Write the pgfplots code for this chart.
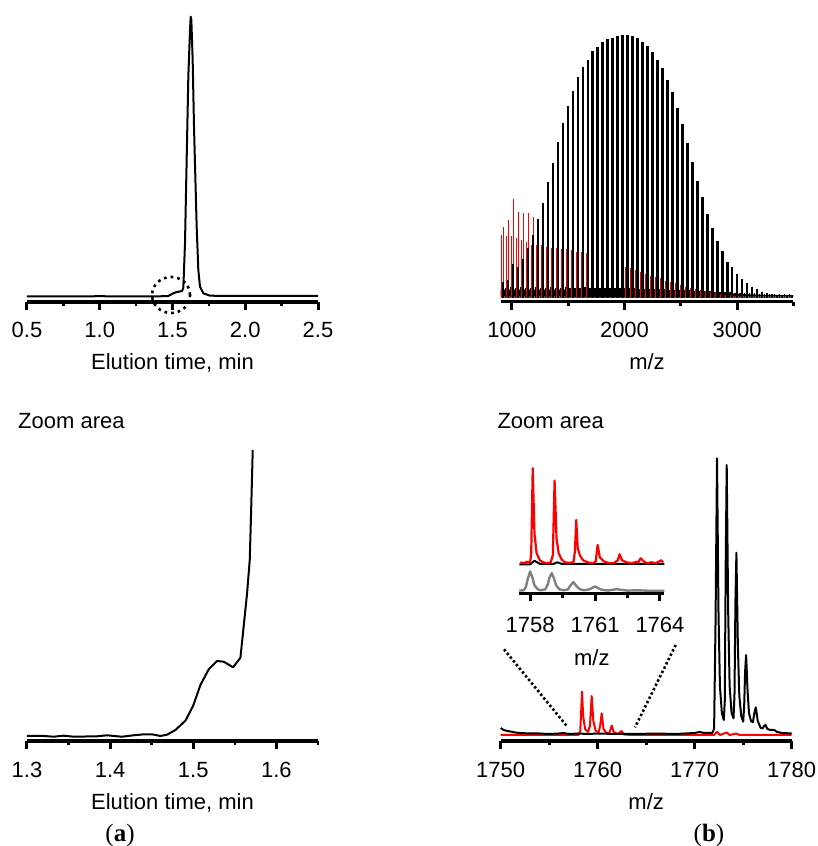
\documentclass[border=0pt]{standalone}
\usepackage{pgfplots}
\pgfplotsset{compat=1.18}
\usepackage{fontspec}
\setmainfont{Liberation Sans}
\newfontfamily\capfont{Liberation Serif}
\newcommand\lbl{\fontsize{22}{26}\selectfont}

\pgfplotsset{
  panel/.style={
    scale only axis, anchor=south west, clip=false,
    axis x line=bottom, axis y line=none,
    axis line style={-, line width=3.2pt},
    tick align=outside,
    major tick length=8pt, minor tick length=4.5pt,
    major tick style={line width=3pt, black},
    minor tick style={line width=2.6pt, black},
    ytick=\empty,
    /pgf/number format/assume math mode=true,
    tick label style={font=\lbl},
    xticklabel style={anchor=base, yshift=-28pt},
    label style={font=\lbl},
    xlabel style={at={(axis description cs:0.5,0)}, anchor=base, yshift=-68pt},
  },
  spec/.style={line width=2pt, line join=round},
}

\begin{document}
\begin{tikzpicture}
\path[use as bounding box] (0,0) rectangle (818pt,846pt);

% ---- top left: chromatogram
\begin{axis}[panel, at={(27pt,544pt)}, width=291pt, height=290pt,
  xmin=0.5, xmax=2.5, ymin=0, ymax=290,
  xtick={0.5,1,1.5,2,2.5}, xticklabels={0.5,1.0,1.5,2.0,2.5},
  minor xtick={0.75,1.25,1.75,2.25},
  xlabel={Elution time, min}]
\addplot[spec] coordinates {
  (0.5,5.5) (0.8,5.5) (1.0,5.8) (1.2,5.5) (1.35,5.6) (1.45,5.8) (1.47,6)
  (1.49,7.5) (1.51,9) (1.53,10) (1.55,10.5) (1.565,11) (1.5745,14)
  (1.5859,58.7) (1.5973,142) (1.6088,225.3) (1.6203,272) (1.6249,285.3)
  (1.6295,282) (1.6386,242) (1.6478,175.3) (1.6569,125.3) (1.6661,75.3)
  (1.6775,32) (1.689,15.3) (1.7119,8.7) (1.7577,6.3) (1.9,6) (2.2,6) (2.5,6)
};
\draw[line width=2.6pt, dash pattern=on 2.7pt off 4pt]
  (axis cs:1.49,7) ellipse[x radius=19pt, y radius=18pt];
\end{axis}

% ---- top right: full spectrum
\begin{axis}[panel, at={(500.7pt,544.3pt)}, width=292.6pt, height=290pt,
  xmin=900, xmax=3500, ymin=-4, ymax=286,
  xtick={1000,2000,3000}, xticklabels={1000,2000,3000},
  minor xtick={1500,2500,3500},
  xlabel={m/z}]
% dense low-level signal
\addplot[fill=black, draw=none] coordinates {
  (900,1) (900,8) (1800,8) (2300,7.5) (2600,6) (2900,4.5) (3200,3) (3500,2.5) (3500,1)
};
\addplot[ycomb, black, line width=1.5pt] coordinates {
  (942,10) (986.3,10.5) (1030.6,10) (1074.9,10.5) (1119.2,10) (1163.5,10)
  (1207.8,10.5) (1252.1,10) (1296.4,10) (1340.7,10.5) (1385,10) (1429.3,10)
  (1473.6,10.5) (1517.9,10) (1562.2,10) (1606.5,10) (1650.8,10.5) (1695.1,10)
  (1739.4,10) (1783.7,10) (1828,10) (1872.3,10) (1916.6,9.5) (1960.9,10)
  (2005.2,10) (2049.5,9.5) (2093.8,9.5) (2138.1,9) (2182.4,9) (2226.7,9)
  (2271,8.5) (2315.3,8.5) (2359.6,8.5) (2403.9,8) (2448.2,8) (2492.5,8)
  (2536.8,7.5) (2581.1,7.5) (2625.4,7) (2669.7,7) (2714,6.5) (2758.3,6.5)
  (2802.6,6) (2846.9,6) (2891.2,5.5) (2935.5,5.5) (2979.8,5) (3024.1,5)
  (3068.4,4.5) (3112.7,4.5) (3157,4.5) (3201.3,4) (3245.6,4) (3289.9,4)
  (3334.2,3.5) (3378.5,3.5) (3422.8,3.5) (3467.1,3.5)
};
% red series
\addplot[ycomb, red, line width=1.5pt] coordinates {
  (908,62.7) (952.3,61.7) (996.6,61.7) (1040.9,59.4) (1085.2,57.7) (1129.5,56)
  (1173.8,52.7) (1218.1,52.7) (1262.4,52.7) (1306.7,51) (1351,50) (1395.3,50)
  (1439.6,48.4) (1483.9,48.4) (1528.2,47.7) (1572.5,45.4) (1616.8,45.4)
  (1661.1,44.4) (1705.4,42.7) (1749.7,39.4) (1794,37.7) (1838.3,36)
  (1882.6,35) (1926.9,33.7) (1971.2,31.7) (2015.5,30.4) (2059.8,29.4)
  (2104.1,27.7) (2148.4,26) (2192.7,23.7) (2237,22) (2281.3,20.4)
  (2325.6,19.4) (2369.9,17) (2414.2,16) (2458.5,14.4) (2502.8,12.7)
  (2547.1,11) (2591.4,9.4) (2635.7,8.4) (2680,7.7) (2724.3,6.7) (2768.6,5.7)
  (2812.9,4.4) (2857.2,3.7) (2901.5,3) (2945.8,2.5) (2990.1,2) (3034.4,1.5)
};
\addplot[ycomb, red, line width=1.5pt] coordinates {
  (924,70.4) (968.3,77.7) (1012.6,98.4) (1056.9,86) (1101.2,85) (1145.5,84.4) (1189.8,80.4)
};
\addplot[red, line width=1.3pt] coordinates {(900,0.4) (3500,0.4)};
% black series
\addplot[ycomb, black, line width=2.4pt] coordinates {
  (920,16) (964.3,17.7) (1008.6,33.7) (1052.9,30.4) (1097.2,38.4) (1141.5,49.4)
  (1185.8,62.7) (1230.1,78.4) (1274.4,95) (1318.7,116) (1363,135) (1407.3,156)
  (1451.6,174.4) (1495.9,191.7) (1540.2,207) (1584.5,220.4) (1628.8,230.4)
  (1673.1,237.7) (1717.4,247) (1761.7,250.4) (1806,256) (1850.3,258.4)
  (1894.6,259.4) (1938.9,262) (1983.2,263) (2027.5,262.7) (2071.8,262)
  (2116.1,259.4) (2160.4,256) (2204.7,251.7) (2249,246) (2293.3,237.7)
  (2337.6,230) (2381.9,217.7) (2426.2,206) (2470.5,189.4) (2514.8,173.7)
  (2559.1,154.4) (2603.4,136) (2647.7,117) (2692,101) (2736.3,83.4)
  (2780.6,69.4) (2824.9,57) (2869.2,47) (2913.5,36) (2957.8,30.4)
  (3002.1,23.7) (3046.4,18.4) (3090.7,15) (3135,11) (3179.3,8.4) (3223.6,6)
  (3267.9,4.4) (3312.2,3.4) (3356.5,2.7) (3400.8,2.4) (3445.1,2.4) (3489.4,2)
};
\end{axis}

% ---- bottom left: zoomed chromatogram
\begin{axis}[panel, at={(27pt,105pt)}, width=291pt, height=291pt,
  xmin=1.3, xmax=1.65, ymin=0, ymax=291,
  xtick={1.3,1.4,1.5,1.6}, xticklabels={1.3,1.4,1.5,1.6},
  minor xtick={1.35,1.45,1.55,1.65},
  xlabel={Elution time, min}]
\addplot[spec] coordinates {
  (1.3,5) (1.32,5) (1.3321,4.3) (1.3441,5.3) (1.3561,4.3) (1.3842,4.7)
  (1.3963,5.7) (1.4083,4.7) (1.4143,4.3) (1.4283,5.7) (1.4404,6.7)
  (1.4504,6.7) (1.4604,5) (1.4684,6.3) (1.4785,11) (1.4905,20.3) (1.4997,35)
  (1.5086,56) (1.5186,71.7) (1.5286,80) (1.5366,79.3) (1.5479,73.7)
  (1.5567,83.3) (1.5647,147.7) (1.5679,181) (1.5695,227.7) (1.5715,291)
};
\end{axis}

% ---- bottom right: zoomed spectrum
\begin{axis}[panel, at={(500.7pt,105pt)}, width=291pt, height=291pt,
  xmin=1750, xmax=1780, ymin=0, ymax=291,
  xtick={1750,1760,1770,1780}, xticklabels={1750,1760,1770,1780},
  minor xtick={1755,1765,1775},
  xlabel={m/z}]
\addplot[spec, red] coordinates {
  (1750,6) (1758,6) (1758.2,10) (1758.3,30) (1758.38,49.3) (1758.5,25)
  (1758.7,12) (1759.0,9) (1759.2,15) (1759.38,45) (1759.55,20) (1759.8,10)
  (1760.1,9) (1760.25,15) (1760.41,27.7) (1760.6,12) (1760.9,8) (1761.2,8)
  (1761.45,15.3) (1761.65,9) (1762.1,7) (1762.45,10) (1762.7,6.5) (1763.5,6)
  (1772,6) (1772.3,9.3) (1772.6,6) (1773.3,8.5) (1773.6,6) (1774.3,7.5)
  (1774.6,6) (1780,6)
};
\addplot[spec, black] coordinates {
  (1750,13) (1750.3,11) (1750.7,10) (1751,9.5) (1751.5,8.5) (1752,8)
  (1753,7.5) (1754,7.5) (1755,7) (1756,7.5) (1756.5,8) (1757,7) (1758,7.5)
  (1759,7) (1760,7.5) (1762,7) (1764,7) (1766,7.5) (1768,7) (1770,8)
  (1770.5,9) (1771,8) (1771.8,8) (1772.0,12) (1772.15,120) (1772.3,282.7)
  (1772.45,130) (1772.6,55) (1772.8,28) (1773.0,21) (1773.1,40) (1773.2,180)
  (1773.3,276) (1773.45,130) (1773.6,55) (1773.8,28) (1774.0,22.7)
  (1774.1,45) (1774.2,140) (1774.3,188.3) (1774.45,95) (1774.6,45)
  (1774.8,25) (1775.0,19.3) (1775.1,35) (1775.2,70) (1775.3,86)
  (1775.45,50) (1775.6,28) (1775.8,20) (1776.0,18.7) (1776.15,28)
  (1776.3,33.7) (1776.5,20) (1776.8,13) (1777.0,12.7) (1777.15,15)
  (1777.3,16) (1777.5,12) (1777.8,11) (1778.2,11) (1778.5,9) (1779,8) (1780,7.5)
};
\draw[line width=2.6pt, dash pattern=on 2.4pt off 2.4pt]
  (axis cs:1750.34,91.7) -- (axis cs:1756.87,14.3);
\draw[line width=2.6pt, dash pattern=on 2.4pt off 2.4pt]
  (axis cs:1768.04,96) -- (axis cs:1763.85,13.7);
\end{axis}

% ---- inset
\begin{axis}[panel, at={(519.3pt,252.7pt)}, width=145pt, height=130pt,
  xmin=1757.5, xmax=1764.2, ymin=0, ymax=130,
  xtick={1758,1761,1764}, xticklabels={1758,1761,1764},
  minor xtick={1759.5,1762.5},
  xticklabel style={yshift=-3pt},
  xlabel style={yshift=-4pt},
  xlabel={m/z}]
\addplot[spec, black] coordinates {
  (1757.5,29) (1758.0,29) (1758.2,32.5) (1758.45,29.5) (1759.1,29.5)
  (1759.25,31) (1759.45,29.5) (1764.2,29.3)
};
\addplot[spec, red, line width=2.2pt] coordinates {
  (1757.55,31) (1757.7,30) (1757.85,31.5) (1758.0,31) (1758.05,40)
  (1758.12,125) (1758.2,60) (1758.3,40) (1758.45,33) (1758.6,31)
  (1758.8,30) (1758.95,31) (1759.05,38) (1759.13,112.7) (1759.22,55)
  (1759.32,40) (1759.45,34) (1759.6,31) (1759.8,30.5) (1760.0,31)
  (1760.07,42) (1760.13,73.3) (1760.2,45) (1760.3,38) (1760.45,33)
  (1760.65,31) (1760.9,30) (1761.03,32) (1761.12,48.3) (1761.22,36)
  (1761.4,32) (1761.6,30.5) (1761.85,30) (1762.05,33) (1762.13,39)
  (1762.25,33) (1762.45,31) (1762.7,30) (1762.9,31.5) (1763.0,31)
  (1763.1,35) (1763.25,32) (1763.4,30) (1763.6,31) (1763.8,30)
  (1764.05,33) (1764.15,31)
};
\addplot[spec, gray, line width=2.4pt] coordinates {
  (1757.5,2.7) (1757.7,3) (1757.8,6) (1757.9,15) (1758.0,21.8) (1758.1,16)
  (1758.2,8) (1758.35,4) (1758.5,3) (1758.7,4) (1758.8,8) (1758.9,16)
  (1759.0,20.2) (1759.1,15) (1759.2,8) (1759.35,4) (1759.55,3) (1759.75,4)
  (1759.85,7.5) (1760.0,11.2) (1760.15,7) (1760.3,4) (1760.5,3) (1760.75,4)
  (1760.9,5.8) (1761.0,6.8) (1761.12,5.5) (1761.3,3.5) (1761.6,2.8)
  (1761.9,3.8) (1762.0,4.2) (1762.15,3.6) (1762.5,2.7) (1763.0,3)
  (1763.5,2.5) (1764.2,2.5)
};
\end{axis}

\node[anchor=base west, font=\lbl, inner sep=0pt] at (18pt,417pt) {Zoom area};
\node[anchor=base west, font=\lbl, inner sep=0pt] at (497.3pt,417pt) {Zoom area};
\node[anchor=base, font=\capfont\fontsize{25}{29}\selectfont, inner sep=0pt] at (120pt,4.8pt) {(\textbf{a})};
\node[anchor=base, font=\capfont\fontsize{25}{29}\selectfont, inner sep=0pt] at (709pt,4.8pt) {(\textbf{b})};
\end{tikzpicture}
\end{document}
